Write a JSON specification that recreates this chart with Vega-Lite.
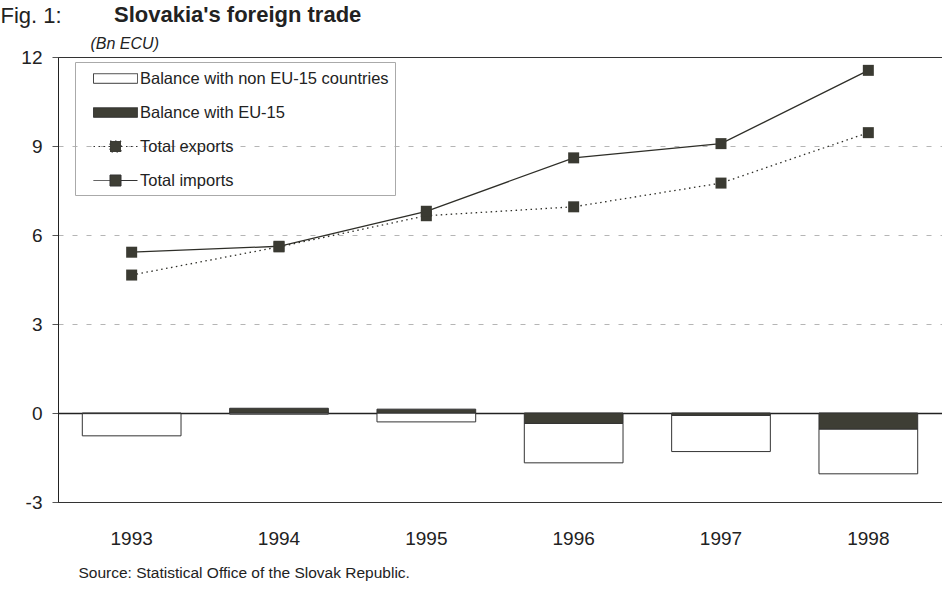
{
  "$schema": "https://vega.github.io/schema/vega-lite/v6.json",
  "autosize": {"type": "none"},
  "padding": {"left": 58, "top": 57, "right": 0, "bottom": 90},
  "width": 884,
  "height": 445,
  "background": "white",
  "config": {
    "view": {"stroke": "#333", "strokeWidth": 1},
    "legend": {
      "symbolSize": 400,
      "symbolStrokeColor": "#333",
      "symbolStrokeWidth": 1,
      "labelFont": "Liberation Sans",
      "labelFontSize": 16.5,
      "labelColor": "#222",
      "labelLimit": 400,
      "padding": 6,
      "rowPadding": 15,
      "symbolOffset": 24,
      "labelOffset": 14,
      "strokeColor": "#aaa"
    }
  },
  "title": {
    "text": "Slovakia's foreign trade",
    "anchor": "start",
    "frame": "group",
    "dx": 56,
    "dy": 23,
    "offset": 0,
    "font": "Liberation Sans",
    "fontSize": 22,
    "fontWeight": "bold",
    "color": "#222"
  },
  "datasets": {
    "bars": [
      {"year": "1993", "series": "Balance with non EU-15 countries", "value": -0.75},
      {"year": "1993", "series": "Balance with EU-15", "value": -0.02},
      {"year": "1994", "series": "Balance with non EU-15 countries", "value": -0.04},
      {"year": "1994", "series": "Balance with EU-15", "value": 0.16},
      {"year": "1995", "series": "Balance with non EU-15 countries", "value": -0.3},
      {"year": "1995", "series": "Balance with EU-15", "value": 0.13},
      {"year": "1996", "series": "Balance with non EU-15 countries", "value": -1.33},
      {"year": "1996", "series": "Balance with EU-15", "value": -0.35},
      {"year": "1997", "series": "Balance with non EU-15 countries", "value": -1.22},
      {"year": "1997", "series": "Balance with EU-15", "value": -0.08},
      {"year": "1998", "series": "Balance with non EU-15 countries", "value": -1.51},
      {"year": "1998", "series": "Balance with EU-15", "value": -0.54}
    ],
    "lines": [
      {"year": "1993", "series": "Total exports", "value": 4.65},
      {"year": "1994", "series": "Total exports", "value": 5.6},
      {"year": "1995", "series": "Total exports", "value": 6.65},
      {"year": "1996", "series": "Total exports", "value": 6.95},
      {"year": "1997", "series": "Total exports", "value": 7.75},
      {"year": "1998", "series": "Total exports", "value": 9.45},
      {"year": "1993", "series": "Total imports", "value": 5.42},
      {"year": "1994", "series": "Total imports", "value": 5.62},
      {"year": "1995", "series": "Total imports", "value": 6.8},
      {"year": "1996", "series": "Total imports", "value": 8.6},
      {"year": "1997", "series": "Total imports", "value": 9.08},
      {"year": "1998", "series": "Total imports", "value": 11.55}
    ]
  },
  "resolve": {"axis": {"x": "independent"}},
  "encoding": {
    "y": {
      "field": "value",
      "type": "quantitative",
      "scale": {"domain": [-3, 12], "nice": false, "zero": false},
      "axis": {
        "title": "(Bn ECU)",
        "titleAngle": 0,
        "titleX": 32,
        "titleY": -14,
        "titleAlign": "left",
        "titleBaseline": "middle",
        "titleFontSize": 16,
        "titleFontStyle": "italic",
        "titleFontWeight": "normal",
        "titleColor": "#222",
        "values": [-3, 0, 3, 6, 9, 12],
        "labelExpr": "'' + datum.value",
        "labelFontSize": 19,
        "labelColor": "#222",
        "labelPadding": 10,
        "tickSize": 6,
        "tickColor": "#555",
        "domainColor": "#222",
        "grid": true,
        "gridColor": {"condition": {"test": "datum.value === 0", "value": "#222"}, "value": "#b5b5b5"},
        "gridDash": {"condition": {"test": "datum.value === 0", "value": [1, 0]}, "value": [5, 9]},
        "gridWidth": {"condition": {"test": "datum.value === 0", "value": 1.3}, "value": 1},
        "gridOpacity": {"condition": {"test": "datum.value === 12 || datum.value === -3", "value": 0}, "value": 1}
      }
    }
  },
  "layer": [
    {
      "data": {"name": "bars"},
      "mark": {"type": "bar", "stroke": "#333", "strokeWidth": 1},
      "encoding": {
        "x": {
          "field": "year",
          "type": "nominal",
          "scale": {"paddingInner": 0.33, "paddingOuter": 0.165},
          "axis": {
            "title": "Source: Statistical Office of the Slovak Republic.",
            "titleX": 20,
            "titleY": 70,
            "titleAlign": "left",
            "titleBaseline": "middle",
            "titleFontSize": 15.5,
            "titleFontWeight": "normal",
            "titleColor": "#222",
            "labelAngle": 0,
            "labelFontSize": 19,
            "labelColor": "#222",
            "labelPadding": 27,
            "ticks": false,
            "domain": false,
            "grid": false
          }
        },
        "color": {
          "field": "series",
          "type": "nominal",
          "scale": {
            "domain": ["Balance with non EU-15 countries", "Balance with EU-15"],
            "range": ["#ffffff", "#3e3e35"]
          },
          "legend": null
        },
        "order": {"field": "series", "sort": "ascending"}
      }
    },
    {
      "data": {"name": "lines"},
      "transform": [{"filter": "datum.series === 'Total exports'"}],
      "mark": {"type": "line", "color": "#2e2e28", "strokeWidth": 1.3, "strokeDash": [1.5, 3.5]},
      "encoding": {
        "x": {"field": "year", "type": "nominal", "axis": null}
      }
    },
    {
      "data": {"name": "lines"},
      "transform": [{"filter": "datum.series === 'Total imports'"}],
      "mark": {"type": "line", "color": "#2e2e28", "strokeWidth": 1.3},
      "encoding": {
        "x": {"field": "year", "type": "nominal", "axis": null}
      }
    },
    {
      "data": {"name": "lines"},
      "mark": {"type": "point", "shape": "square", "filled": true, "size": 121, "color": "#3a3a32", "opacity": 1},
      "encoding": {
        "x": {
          "field": "year",
          "type": "nominal",
          "axis": {
            "orient": "top",
            "labels": false,
            "ticks": false,
            "domain": false,
            "grid": false,
            "title": "Fig. 1:",
            "titleX": -58,
            "titleY": -35,
            "titleAlign": "left",
            "titleBaseline": "alphabetic",
            "titleFontSize": 22,
            "titleFontWeight": "normal",
            "titleColor": "#222"
          }
        }
      }
    },
    {
      "data": {"name": "lines"},
      "transform": [{"filter": "false"}],
      "mark": {"type": "point", "filled": true, "stroke": "#333", "strokeWidth": 1, "opacity": 1},
      "encoding": {
        "x": {"field": "year", "type": "nominal", "axis": null},
        "fill": {
          "field": "series",
          "type": "nominal",
          "scale": {
            "domain": ["Balance with non EU-15 countries", "Balance with EU-15", "Total exports", "Total imports"],
            "range": ["#ffffff", "#3e3e35", "#3e3e35", "#3e3e35"]
          },
          "legend": {"title": null, "orient": "none", "legendX": 17, "legendY": 5,
            "encode": {"legend": {"strokeDash": {"value": [4, 3]}}}}
        },
        "stroke": {
          "field": "series",
          "type": "nominal",
          "scale": {
            "domain": ["Balance with non EU-15 countries", "Balance with EU-15", "Total exports", "Total imports"],
            "range": ["#333333", "#333333", "#333333", "#333333"]
          },
          "legend": {"title": null, "orient": "none", "legendX": 17, "legendY": 5,
            "encode": {"legend": {"strokeDash": {"value": [4, 3]}}}}
        },
        "shape": {
          "field": "series",
          "type": "nominal",
          "scale": {
            "domain": ["Balance with non EU-15 countries", "Balance with EU-15", "Total exports", "Total imports"],
            "range": ["M-2.2,-0.48H2.2V0.48H-2.2Z", "M-2.2,-0.48H2.2V0.48H-2.2Z", "M-2.2,0H-0.55M0.55,0H2.2M-0.55,-0.55H0.55V0.55H-0.55Z", "M-2.2,0H-0.55M0.55,0H2.2M-0.55,-0.55H0.55V0.55H-0.55Z"]
          },
          "legend": {"title": null, "orient": "none", "legendX": 17, "legendY": 5,
            "encode": {"legend": {"strokeDash": {"value": [4, 3]}}}}
        },
        "strokeDash": {
          "field": "series",
          "type": "nominal",
          "scale": {
            "domain": ["Balance with non EU-15 countries", "Balance with EU-15", "Total exports", "Total imports"],
            "range": [[1, 0], [1, 0], [1.5, 3.5], [1, 0]]
          },
          "legend": {"title": null, "orient": "none", "legendX": 17, "legendY": 5,
            "encode": {"legend": {"strokeDash": {"value": [4, 3]}}}}
        }
      }
    }
  ]
}
